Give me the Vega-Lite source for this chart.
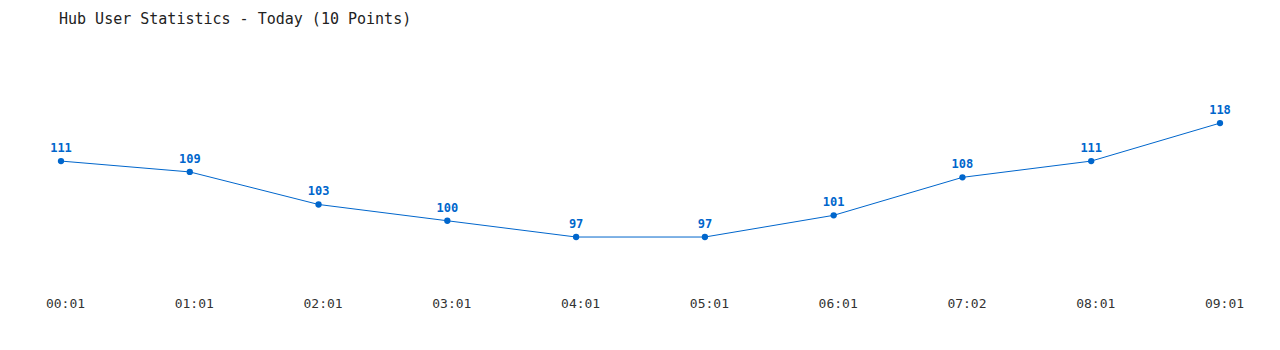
{
  "$schema": "https://vega.github.io/schema/vega-lite/v6.json",
  "autosize": {"type": "none"},
  "width": 1159,
  "height": 217,
  "padding": {"left": 61, "top": 58, "right": 60, "bottom": 75},
  "background": "white",
  "title": {
    "text": "Hub User Statistics - Today (10 Points)",
    "anchor": "start",
    "frame": "group",
    "font": "DejaVu Sans Mono",
    "fontSize": 15,
    "fontWeight": "normal",
    "color": "#222222",
    "dx": -2,
    "offset": 31
  },
  "config": {"view": {"stroke": null}},
  "data": {
    "values": [
      {"t": "00:01", "users": 111},
      {"t": "01:01", "users": 109},
      {"t": "02:01", "users": 103},
      {"t": "03:01", "users": 100},
      {"t": "04:01", "users": 97},
      {"t": "05:01", "users": 97},
      {"t": "06:01", "users": 101},
      {"t": "07:02", "users": 108},
      {"t": "08:01", "users": 111},
      {"t": "09:01", "users": 118}
    ]
  },
  "encoding": {
    "x": {
      "field": "t",
      "type": "ordinal",
      "sort": null,
      "scale": {"type": "point", "padding": 0},
      "axis": {
        "title": null,
        "domain": false,
        "ticks": false,
        "grid": false,
        "labelAngle": 0,
        "labelFont": "DejaVu Sans Mono",
        "labelFontSize": 13,
        "labelColor": "#333333",
        "labelPadding": 22,
        "labelOffset": 4
      }
    },
    "y": {
      "field": "users",
      "type": "quantitative",
      "scale": {"domain": [90, 130], "nice": false, "zero": false},
      "axis": null
    }
  },
  "layer": [
    {"mark": {"type": "line", "color": "#0066CC", "strokeWidth": 1}},
    {"mark": {"type": "point", "filled": true, "color": "#0066CC", "size": 40, "opacity": 1}},
    {
      "mark": {
        "type": "text",
        "color": "#0066CC",
        "font": "DejaVu Sans Mono",
        "fontSize": 12,
        "fontWeight": "bold",
        "dy": -13,
        "baseline": "middle"
      },
      "encoding": {"text": {"field": "users", "type": "quantitative"}}
    }
  ]
}
